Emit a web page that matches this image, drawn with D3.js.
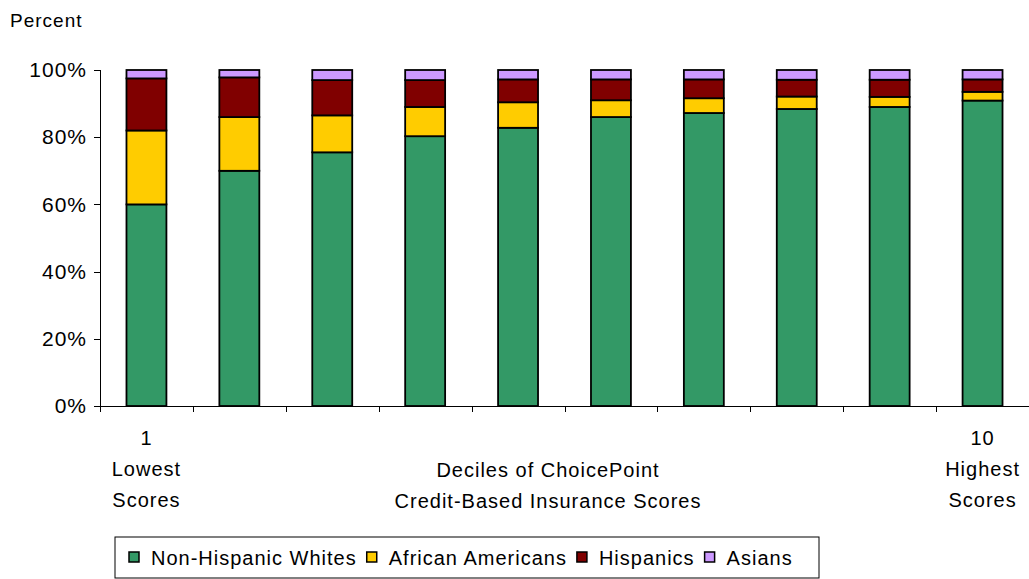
<!DOCTYPE html>
<meta charset="utf-8">
<style>
    body { margin: 0; background: #fff; }
    text { font-family: "Liberation Sans", Arial, sans-serif; fill: #000; }
    .axis path, .axis line { stroke: #000; shape-rendering: crispEdges; }
</style>
<body>
<svg width="1029" height="579"></svg>
<script src="https://d3js.org/d3.v7.min.js"></script>
<script>
    // deciles of score, lowest to highest
    var deciles = ["1", "2", "3", "4", "5", "6", "7", "8", "9", "10"];
    var seriesNames = ["Non-Hispanic Whites", "African Americans", "Hispanics", "Asians"];
    var whites    = [60, 70, 75.5, 80.3, 82.8, 86, 87.2, 88.4, 89, 90.9];
    var african   = [22, 16, 11, 8.7, 7.6, 5, 4.4, 3.7, 3, 2.6];
    var hispanics = [15.5, 11.8, 10.5, 8, 6.8, 6.2, 5.6, 5, 5.1, 3.7];
    var asians    = [2.5, 2.2, 3, 3, 2.8, 2.8, 2.8, 2.9, 2.9, 2.8];
    var yTicks = [0, 20, 40, 60, 80, 100];
    var colors = ["#339966", "#FFCC00", "#800000", "#CC99FF"];

    var svg = d3.select("svg"),
        margin = { top: 70, left: 100 },
        width = 929,
        height = 336;

    var data = deciles.map(function (d, i) {
        return { decile: d, w: whites[i], aa: african[i], h: hispanics[i], a: asians[i] };
    });
    var keys = ["w", "aa", "h", "a"];
    var stack = d3.stack().keys(keys)(data);

    var x = d3.scaleBand().domain(deciles).range([0, width]).paddingInner(0.57).paddingOuter(0.285);
    var x0 = d3.scaleLinear().domain([0, deciles.length]).range([0, width]);
    var y = d3.scaleLinear().domain([0, 100]).range([height, 0]);

    var g = svg.append("g")
        .attr("transform", "translate(" + margin.left + "," + margin.top + ")");

    g.selectAll(".layer")
        .data(stack)
        .enter().append("g")
        .attr("fill", function (d, i) { return colors[i]; })
        .selectAll("rect")
        .data(function (d) { return d; })
        .enter().append("rect")
        .attr("x", function (d) { return x(d.data.decile); })
        .attr("y", function (d) { return y(d[1]); })
        .attr("width", x.bandwidth())
        .attr("height", function (d) { return y(d[0]) - y(d[1]); })
        .attr("stroke", "#000")
        .attr("stroke-width", 1.8);

    // y axis
    g.append("g")
        .attr("class", "axis")
        .call(d3.axisLeft(y).tickValues(yTicks).tickSize(6).tickPadding(7)
            .tickFormat(function (d) { return d + "%"; }))
        .call(function (a) {
            a.selectAll("text").style("font-size", "21px").style("letter-spacing", "1px");
        });

    // x axis with ticks between categories
    g.append("g")
        .attr("class", "axis")
        .attr("transform", "translate(0," + height + ")")
        .call(d3.axisBottom(x0).tickValues(d3.range(0, deciles.length + 1)).tickSize(6).tickFormat(""))
        .call(function (a) { a.select(".domain").attr("d", "M0,0H" + width); });

    function multi(xc, lines, y0, dy) {
        var t = svg.append("text").attr("text-anchor", "middle")
            .style("font-size", "20px").style("letter-spacing", "1px");
        lines.forEach(function (s, i) {
            t.append("tspan").attr("x", xc).attr("y", y0 + i * dy).text(s);
        });
    }
    var c1 = margin.left + x(deciles[0]) + x.bandwidth() / 2;
    var c10 = margin.left + x(deciles[9]) + x.bandwidth() / 2;
    multi(c1, ["1", "Lowest", "Scores"], 445, 31);
    multi(c10, ["10", "Highest", "Scores"], 445, 31);
    multi(548, ["Deciles of ChoicePoint", "Credit-Based Insurance Scores"], 477, 31);

    svg.append("text").attr("x", 10).attr("y", 27)
        .style("font-size", "19px").style("letter-spacing", "1px").text("Percent");

    // legend
    var legend = svg.append("g").attr("transform", "translate(115,537)");
    legend.append("rect").attr("width", 704).attr("height", 41)
        .attr("fill", "#fff").attr("stroke", "#000");
    var lx = 14;
    seriesNames.forEach(function (name, i) {
        legend.append("rect").attr("x", lx).attr("y", 15).attr("width", 10).attr("height", 10)
            .attr("fill", colors[i]).attr("stroke", "#000").attr("stroke-width", 1.5);
        var t = legend.append("text").attr("x", lx + 22).attr("y", 28)
            .style("font-size", "20px").style("letter-spacing", "1px").text(name);
        lx += 22 + t.node().getComputedTextLength() + 10;
    });
</script>
</body>
